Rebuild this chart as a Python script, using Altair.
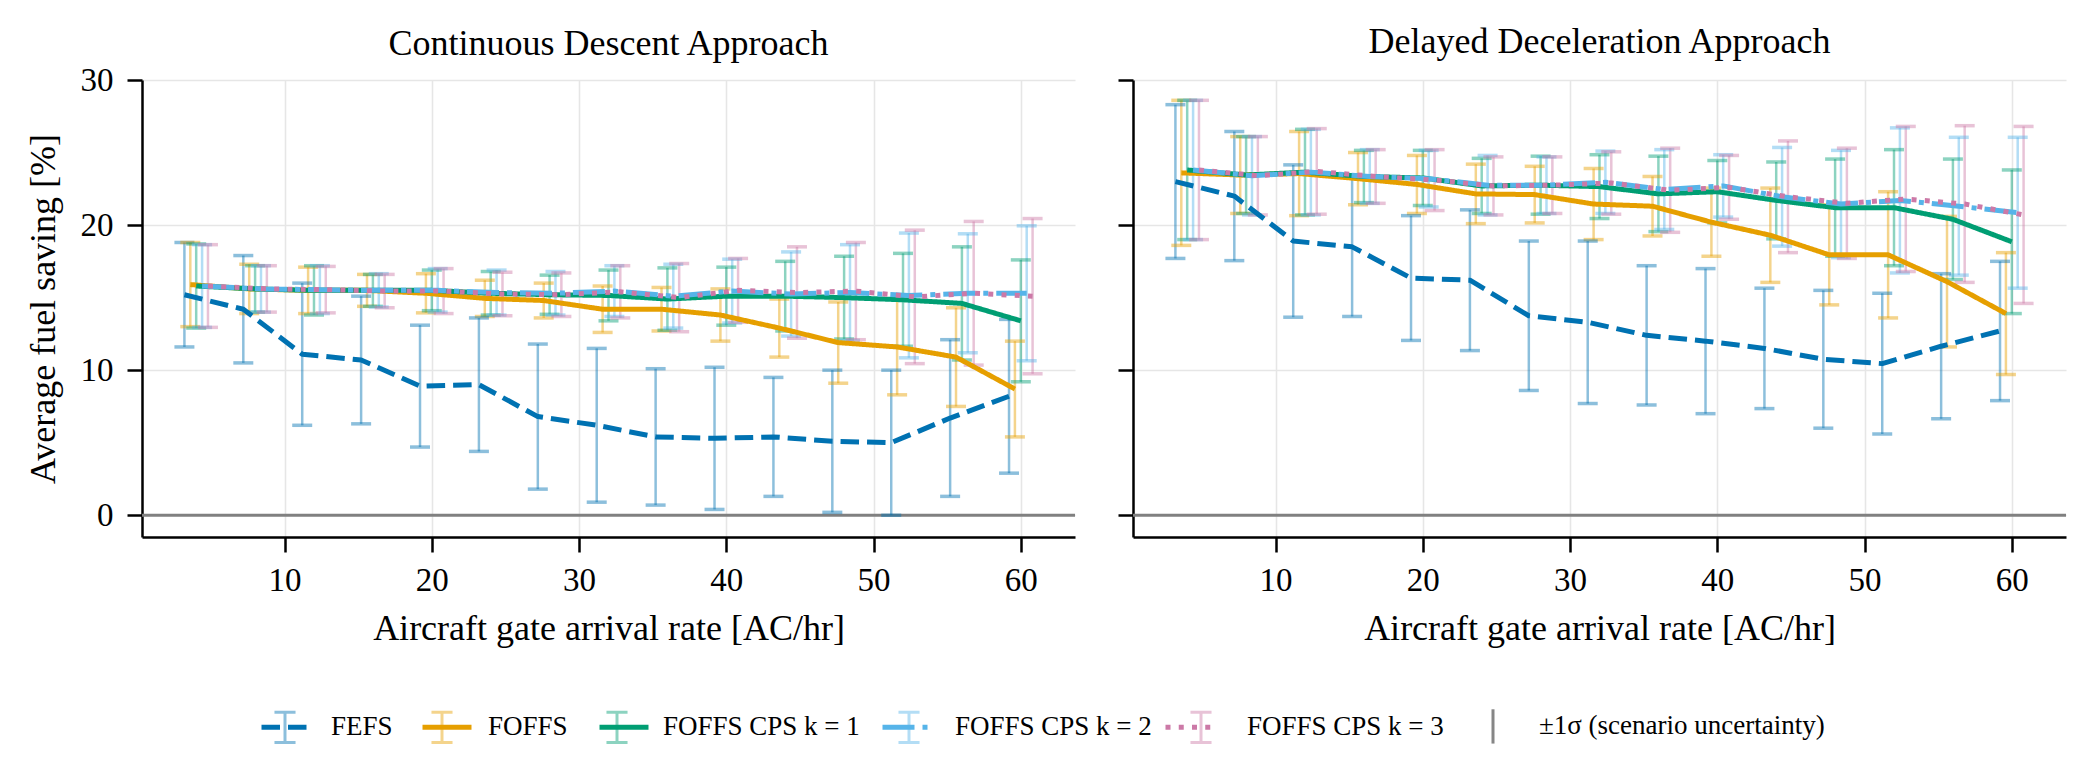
import altair as alt
import pandas as pd

# ---------------- data ----------------
rates = [4, 8, 12, 16, 20, 24, 28, 32, 36, 40, 44, 48, 52, 56, 60]
series_names = ["FEFS", "FOFFS", "FOFFS CPS k = 1", "FOFFS CPS k = 2", "FOFFS CPS k = 3"]
sigma_label = "±1σ (scenario uncertainty)"
dodge = [-0.8, -0.4, 0.0, 0.4, 0.8]
approaches = ["Continuous Descent Approach", "Delayed Deceleration Approach"]

# Continuous Descent Approach
cda_fefs_mean = [15.2, 14.2, 11.1, 10.7, 8.9, 9.0, 6.8, 6.2, 5.4, 5.3, 5.4, 5.1, 5.0, 6.7, 8.2]
cda_fefs_std = [3.6, 3.7, 4.9, 4.4, 4.2, 4.6, 5.0, 5.3, 4.7, 4.9, 4.1, 4.9, 5.0, 5.4, 5.3]
cda_foffs_mean = [15.9, 15.6, 15.5, 15.5, 15.3, 14.95, 14.8, 14.2, 14.2, 13.8, 12.9, 11.9, 11.6, 10.9, 8.7]
cda_foffs_std = [2.9, 1.7, 1.6, 1.1, 1.35, 1.25, 1.2, 1.6, 1.5, 1.8, 2.0, 2.8, 3.3, 3.4, 3.3]
cda_cps1_mean = [15.8, 15.6, 15.5, 15.5, 15.5, 15.3, 15.2, 15.15, 14.9, 15.1, 15.1, 15.0, 14.85, 14.6, 13.4]
cda_cps1_std = [2.9, 1.6, 1.7, 1.1, 1.4, 1.5, 1.35, 1.75, 2.15, 2.0, 2.4, 2.85, 3.2, 3.9, 4.2]
cda_cps2_mean = [15.8, 15.6, 15.55, 15.5, 15.5, 15.35, 15.3, 15.45, 15.1, 15.45, 15.25, 15.35, 15.15, 15.3, 15.3]
cda_cps2_std = [2.85, 1.6, 1.65, 1.15, 1.5, 1.55, 1.5, 1.75, 2.2, 2.2, 2.9, 3.3, 4.3, 4.1, 4.65]
cda_cps3_mean = [15.8, 15.6, 15.55, 15.45, 15.45, 15.25, 15.2, 15.4, 15.0, 15.5, 15.35, 15.45, 15.05, 15.3, 15.1]
cda_cps3_std = [2.85, 1.6, 1.6, 1.15, 1.55, 1.5, 1.5, 1.8, 2.35, 2.2, 3.15, 3.35, 4.6, 4.95, 5.35]

# Delayed Deceleration Approach
dda_fefs_mean = [23.0, 22.0, 18.9, 18.5, 16.35, 16.2, 13.75, 13.3, 12.4, 12.0, 11.5, 10.75, 10.45, 11.65, 12.7]
dda_fefs_std = [5.3, 4.45, 5.25, 4.8, 4.3, 4.85, 5.15, 5.6, 4.8, 5.0, 4.15, 4.75, 4.85, 5.0, 4.8]
dda_foffs_mean = [23.6, 23.45, 23.55, 23.2, 22.8, 22.15, 22.1, 21.45, 21.3, 20.2, 19.3, 17.95, 17.95, 16.1, 13.9]
dda_foffs_std = [5.0, 2.65, 2.9, 1.8, 2.0, 2.05, 1.95, 2.45, 2.05, 2.35, 3.25, 3.45, 4.35, 4.5, 4.2]
dda_cps1_mean = [23.8, 23.45, 23.65, 23.35, 23.25, 22.7, 22.75, 22.65, 22.15, 22.3, 21.7, 21.2, 21.2, 20.4, 18.85]
dda_cps1_std = [4.8, 2.65, 2.95, 1.8, 1.9, 1.9, 2.0, 2.2, 2.6, 2.15, 2.65, 3.35, 4.0, 4.15, 4.95]
dda_cps2_mean = [23.8, 23.4, 23.65, 23.35, 23.2, 22.75, 22.75, 22.95, 22.45, 22.7, 21.95, 21.45, 21.7, 21.3, 20.85]
dda_cps2_std = [4.8, 2.7, 2.95, 1.85, 1.95, 2.05, 1.95, 2.15, 2.75, 2.15, 3.4, 3.7, 5.0, 4.75, 5.2]
dda_cps3_mean = [23.8, 23.4, 23.7, 23.35, 23.1, 22.7, 22.75, 22.9, 22.4, 22.6, 21.95, 21.5, 21.8, 21.45, 20.7]
dda_cps3_std = [4.8, 2.7, 2.95, 1.85, 2.1, 2.0, 1.95, 2.15, 2.9, 2.2, 3.85, 3.8, 5.0, 5.4, 6.1]

# ---------------- styles ----------------
line_colors = ["#0072B2", "#E69F00", "#009E73", "#56B4E9", "#CC79A7"]
bar_colors = ["rgba(0,114,178,0.45)", "rgba(230,159,0,0.45)", "rgba(0,158,115,0.45)",
              "rgba(86,180,233,0.45)", "rgba(204,121,167,0.45)"]
dashes = [[18.5, 8], [1, 0], [1, 0], [32, 8, 5, 8], [5, 8.25]]
FONT = "Liberation Serif"

means = {
    approaches[0]: [cda_fefs_mean, cda_foffs_mean, cda_cps1_mean, cda_cps2_mean, cda_cps3_mean],
    approaches[1]: [dda_fefs_mean, dda_foffs_mean, dda_cps1_mean, dda_cps2_mean, dda_cps3_mean],
}
stds = {
    approaches[0]: [cda_fefs_std, cda_foffs_std, cda_cps1_std, cda_cps2_std, cda_cps3_std],
    approaches[1]: [dda_fefs_std, dda_foffs_std, dda_cps1_std, dda_cps2_std, dda_cps3_std],
}

rows = []
for appr in approaches:
    for s, name in enumerate(series_names):
        for r, m, sd in zip(rates, means[appr][s], stds[appr][s]):
            rows.append(dict(approach=appr, series=name, series_eb=name + " ",
                             x=r + dodge[s], mean=m, lo=m - sd, hi=m + sd))
df = pd.DataFrame(rows)

legend_names = series_names + [sigma_label]
eb_names = [n + " " for n in legend_names]

# legend position, relative to the left plot area's top-left corner
LEG_X = 117
LEG_Y = 620
common_leg = dict(orient="none", legendX=LEG_X, legendY=LEG_Y, direction="horizontal",
                  columns=6, symbolSize=2401, labelFont=FONT,
                  labelFontStyle="normal", labelFontWeight="normal",
                  labelColor="black", labelOffset=20, columnPadding=23, labelLimit=600,
                  title=None, padding=0, symbolOpacity=1,
                  labelExpr="trim(datum.label)")

bar_path = "M0,-0.62V0.62M-0.43,-0.62H0.43M-0.43,0.62H0.43"
sig_path = "M0,-0.7V0.7"
# error-bar glyphs + visible labels
legend_b = alt.Legend(labelOpacity=1, labelFontSize=27, **common_leg)
# line glyphs drawn on top (labels hidden; this legend's labels are measured with a
# wider fallback face, so a smaller size keeps its layout equal to the visible one)
legend_a = alt.Legend(symbolType="stroke", symbolStrokeWidth=5, labelOpacity=0,
                      labelFontSize=24.3, **common_leg)

color_b = alt.Color("series_eb:N",
                    scale=alt.Scale(domain=eb_names, range=bar_colors + ["rgba(128,128,128,0.95)"]),
                    legend=legend_b)
shape_b = alt.Shape("series_eb:N",
                    scale=alt.Scale(domain=eb_names, range=[bar_path] * 5 + [sig_path]),
                    legend=legend_b)
width_b = alt.StrokeWidth("series_eb:N",
                          scale=alt.Scale(domain=eb_names, range=[3, 3, 3, 3, 3, 4.5]),
                          legend=legend_b)
stroke_a = alt.Stroke("series:N",
                      scale=alt.Scale(domain=legend_names, range=line_colors + ["rgba(0,0,0,0)"]),
                      legend=legend_a)
dash_a = alt.StrokeDash("series:N",
                        scale=alt.Scale(domain=legend_names, range=dashes + [[1, 0]]),
                        legend=legend_a)

xscale = alt.Scale(domain=[0.32, 63.68], nice=False, zero=False)
yscale = alt.Scale(domain=[-1.5, 30], nice=False, zero=False)
xaxis = alt.Axis(values=[10, 20, 30, 40, 50, 60], title="Aircraft gate arrival rate [AC/hr]",
                 grid=True, labelFlush=False)


def panel(appr, first):
    d = df[df["approach"] == appr]
    if first:
        yaxis = alt.Axis(values=[0, 10, 20, 30], title="Average fuel saving [%]", grid=True)
        title_offset = -26.5
    else:
        yaxis = alt.Axis(values=[0, 10, 20, 30], title=None, labels=False, grid=True)
        title_offset = -10
    x = alt.X("x:Q", scale=xscale, axis=xaxis)
    zero = alt.Chart(pd.DataFrame({"zero": [0]})).mark_rule(
        color="#808080", strokeWidth=3).encode(y=alt.Y("zero:Q", scale=yscale, axis=yaxis))
    bars = alt.Chart(d).mark_rule(strokeWidth=2.5).encode(
        x=x, y=alt.Y("lo:Q", scale=yscale, axis=yaxis), y2="hi:Q", color=color_b)
    cap_lo = alt.Chart(d).mark_point(shape="stroke", size=400, strokeWidth=3.5,
                                     filled=False, opacity=1).encode(
        x=x, y=alt.Y("lo:Q", scale=yscale, axis=yaxis), color=color_b)
    cap_hi = alt.Chart(d).mark_point(shape="stroke", size=400, strokeWidth=3.5,
                                     filled=False, opacity=1).encode(
        x=x, y=alt.Y("hi:Q", scale=yscale, axis=yaxis), color=color_b)
    # legend-only layer (no rows survive the filter): supplies shape/strokeWidth for the legend
    leg_only = alt.Chart(d).transform_filter("false").mark_point(filled=False, opacity=1).encode(
        x=x, y=alt.Y("mean:Q", scale=yscale, axis=yaxis), color=color_b, shape=shape_b,
        strokeWidth=width_b)
    lines = alt.Chart(d).mark_line(strokeWidth=5, strokeCap="butt", strokeJoin="round").encode(
        x=x, y=alt.Y("mean:Q", scale=yscale, axis=yaxis), stroke=stroke_a, strokeDash=dash_a)
    return alt.layer(zero, bars, cap_lo, cap_hi, leg_only, lines).properties(
        width=933, height=457,
        title=alt.TitleParams(appr, font=FONT, fontSize=36, fontWeight="normal",
                              color="black", baseline="alphabetic", offset=title_offset,
                              frame="group"))


chart = alt.hconcat(panel(approaches[0], True), panel(approaches[1], False), spacing=39).properties(
    padding={"left": 17, "top": 15, "right": 5, "bottom": 5}
).configure_view(strokeWidth=0).configure_axis(
    labelFont=FONT, labelFontSize=33, labelColor="black",
    titleFont=FONT, titleFontSize=36, titleFontWeight="normal", titleColor="black",
    domainColor="black", domainWidth=2.5, tickColor="black", tickWidth=2.5, tickSize=15,
    gridColor="#e6e6e6", gridWidth=1.6,
).configure_axisX(labelPadding=12, titlePadding=14).configure_axisY(
    labelPadding=14, titlePadding=18
).configure_legend(
    labelFont=FONT, labelColor="black", labelLimit=600, labelOffset=20,
    columnPadding=23, symbolSize=2401, padding=0
)

chart.save("out.html", embed_options={"renderer": "svg", "actions": False})
